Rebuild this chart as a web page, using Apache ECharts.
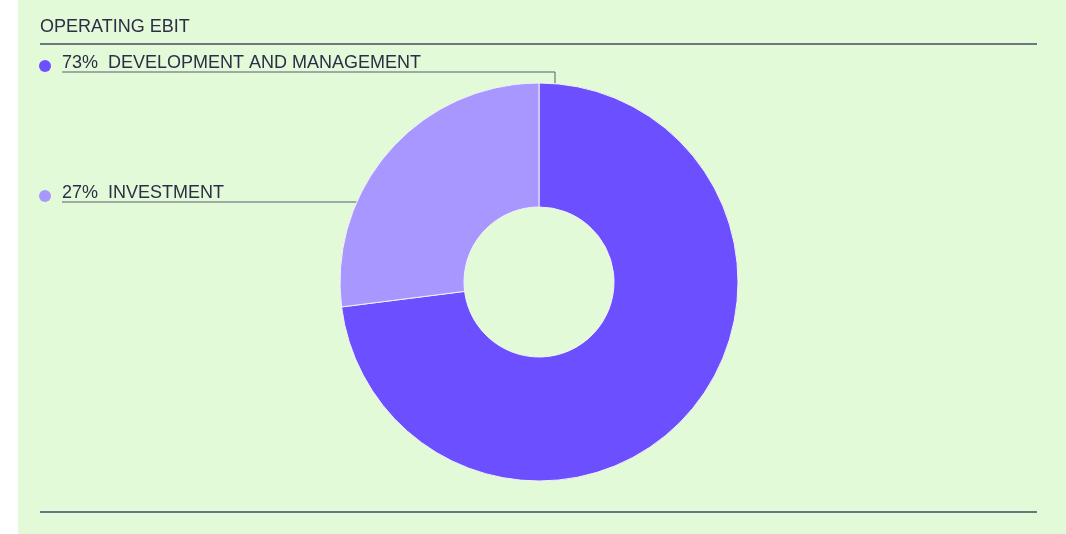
<!DOCTYPE html>
<html>
<head>
<meta charset="utf-8">
<script src="https://cdn.jsdelivr.net/npm/echarts@6/dist/echarts.min.js"></script>
<style>
  html, body { margin: 0; padding: 0; background: #ffffff; }
  #bg { position: absolute; left: 18px; top: 0; width: 1048px; height: 534px; background: #e2fad7; }
  #main { position: absolute; left: 0; top: 0; width: 1066px; height: 534px; }
</style>
</head>
<body>
<div id="bg"></div>
<div id="main"></div>
<script>
// data
var categories = ['DEVELOPMENT AND MANAGEMENT', 'INVESTMENT'];
var shares = [73, 27];
var sliceColors = ['#6c4fff', '#a897ff'];

// layout
var cx = 539, cy = 282, rIn = 75, rOut = 199;
var labelLeft = 39, textLeft = 62;
var underlineY = [72, 202];

var chart = echarts.init(document.getElementById('main'));

var pieData = categories.map(function (name, i) {
    return {
        name: name,
        value: shares[i],
        itemStyle: { color: sliceColors[i] },
        label: {
            formatter: '{dot' + i + '|}{sp|}{txt|' + shares[i] + '%  ' + name + '}'
        }
    };
});

var rich = {
    sp: { width: 11, height: 12 },
    txt: { fontSize: 18, color: '#2e2d48', fontFamily: 'Liberation Sans', lineHeight: 20, verticalAlign: 'bottom' }
};
sliceColors.forEach(function (c, i) {
    rich['dot' + i] = { width: 12, height: 12, borderRadius: 6, backgroundColor: c, verticalAlign: 'bottom' };
});

// point on the outer edge where each label line starts
function anchor(i) {
    if (i === 0) {
        var dx = 16;
        return [cx + dx, cy - Math.sqrt(rOut * rOut - dx * dx)];
    }
    var dy = cy - underlineY[i];
    return [cx - Math.sqrt(rOut * rOut - dy * dy), underlineY[i]];
}

var option = {
    backgroundColor: 'transparent',
    animation: false,
    title: {
        text: 'OPERATING EBIT',
        left: 40,
        top: 18,
        padding: 0,
        textStyle: { fontSize: 18, fontWeight: 'normal', color: '#2e2d48', fontFamily: 'Liberation Sans' }
    },
    graphic: [
        { type: 'line', shape: { x1: 40, y1: 44, x2: 1037, y2: 44 }, style: { stroke: '#4a4a64', lineWidth: 1.5 } },
        { type: 'line', shape: { x1: 40, y1: 512, x2: 1037, y2: 512 }, style: { stroke: '#4a4a64', lineWidth: 1.5 } }
    ],
    series: [{
        type: 'pie',
        center: [cx, cy],
        radius: [rIn, rOut],
        startAngle: 90,
        clockwise: true,
        avoidLabelOverlap: false,
        itemStyle: { borderColor: '#f2f2f2', borderWidth: 1 },
        label: {
            show: true,
            position: 'outside',
            rich: rich
        },
        labelLine: {
            show: true,
            lineStyle: { color: '#5a5a70', width: 1 }
        },
        labelLayout: function (params) {
            var i = params.dataIndex;
            var a = anchor(i);
            var y = underlineY[i];
            return {
                x: labelLeft,
                y: y,
                align: 'left',
                verticalAlign: 'bottom',
                labelLinePoints: [a, [a[0], y], [textLeft, y]]
            };
        },
        emphasis: { disabled: true },
        data: pieData
    }]
};

chart.setOption(option);
</script>
</body>
</html>
